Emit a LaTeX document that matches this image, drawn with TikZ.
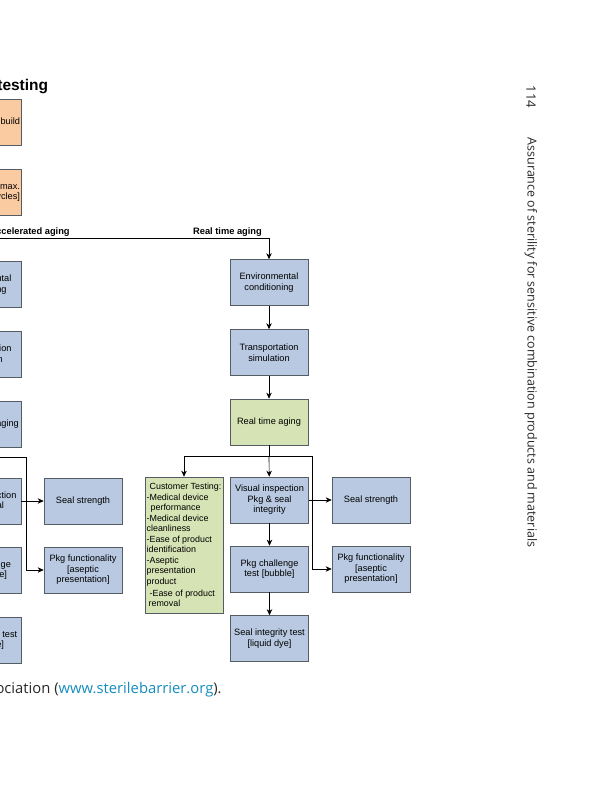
\documentclass[tikz,border=0pt]{standalone}
\usepackage{fontspec}
\setmainfont{Liberation Sans}
\newfontfamily\bookfont{Open Sans}
\usetikzlibrary{arrows.meta}
\definecolor{boxblue}{RGB}{184,201,225}
\definecolor{agegreen}{RGB}{214,227,181}
\definecolor{prepor}{RGB}{250,202,160}
\definecolor{boxline}{RGB}{85,92,100}
\definecolor{pagegray}{RGB}{40,40,40}
\definecolor{linkblue}{RGB}{20,140,190}
\tikzset{
  box/.style={draw=boxline,fill=boxblue,minimum width=78pt,minimum height=46pt,
    inner sep=1pt,align=center,font=\fontsize{9.2}{10.6}\selectfont},
  agebox/.style={box,fill=agegreen},
  prepbox/.style={box,fill=prepor,align=right,text width=76pt},
  branch/.style={anchor=base,inner sep=0pt,font=\bfseries\fontsize{9.3}{10}\selectfont},
}
\begin{document}
\begin{tikzpicture}[x=1pt,y=-1pt,>={Stealth[length=6pt,width=5.5pt]},line width=0.65pt]
  \useasboundingbox (0,0) rectangle (599,800);
  \clip (0,0) rectangle (599,800);
  % title and running head
  \node[anchor=base east,inner sep=0pt,font=\bfseries\fontsize{15.5}{16}\selectfont] (title) at (48.5,90) {Package testing};
  \node[rotate=-90,inner sep=0pt,text=pagegray,font=\bookfont\fontsize{13}{13}\selectfont] (pageno) at (531,97) {114};
  \node[rotate=-90,inner sep=0pt,text=pagegray,font=\bookfont\fontsize{12.5}{13}\selectfont] (runhead) at (531,342.5) {Assurance of sterility for sensitive combination products and materials};
  % preparation (cut at the left edge)
  \node[prepbox] (build) at (-18,122.5) {Package build};
  \node[prepbox] (steril) at (-18,192) {Sterilization max.\\{[cycles]}};
  \coordinate (split) at (-18,238);
  \draw (build) -- (steril);
  \draw (steril) -- (split);
  \node[branch,anchor=base east] (lblacc) at (70,234) {Accelerated aging};
  \node[branch] (lblrt) at (227.5,234) {Real time aging};
  % accelerated aging branch
  \node[box] (envacc) at (-18,284.5) {Environmental\\conditioning};
  \node[box] (transacc) at (-18,354) {Transportation\\simulation};
  \node[box] (agacc) at (-18,424) {Accelerated aging};
  \node[box] (visacc) at (-18,501) {Visual inspection\\Pkg \& seal};
  \node[box] (chalacc) at (-18,570) {Pkg challenge\\test [bubble]};
  \node[box] (dyeacc) at (-18,640) {Seal integrity test\\{[liquid dye]}};
  \node[box] (ssacc) at (83,501) {Seal strength};
  \node[box] (pfacc) at (83,570) {Pkg functionality\\{[aseptic}\\presentation]};
  \draw[->] (split) -- (envacc);
  \draw[->] (envacc) -- (transacc);
  \draw[->] (transacc) -- (agacc);
  \coordinate (ljoin) at (-18,457);
  \coordinate (lbend) at (26,457);
  \draw (agacc) -- (ljoin);
  \draw[->] (ljoin) -- (visacc);
  \draw[->] (ljoin) -- (lbend) |- (pfacc);
  \draw[->] (visacc) -- (ssacc);
  \draw[->] (visacc) -- (chalacc);
  \draw[->] (chalacc) -- (dyeacc);
  % real time aging branch
  \node[box] (env) at (269,282.5) {Environmental\\conditioning};
  \node[box] (trans) at (269,352.5) {Transportation\\simulation};
  \node[agebox] (rta) at (269,422) {Real time aging};
  \node[agebox,align=left,minimum height=136pt,
    font=\fontsize{8.9}{10.5}\selectfont] (cust) at (184,545) {\hspace*{3pt}Customer Testing:\\
    -Medical device\\
    \hspace*{4pt}performance\\
    -Medical device\\
    cleanliness\\
    -Ease of product\\
    identification\\
    -Aseptic\\
    presentation\\
    product\\[1.5pt]
    \hspace*{3pt}-Ease of product\\
    \hspace*{2pt}removal};
  \node[box] (vis) at (269.5,500) {Visual inspection\\Pkg \& seal\\integrity};
  \node[box] (chal) at (269.5,569) {Pkg challenge\\test [bubble]};
  \node[box] (dye) at (269.5,638.5) {Seal integrity test\\{[liquid dye]}};
  \node[box] (ssrt) at (371,500) {Seal strength};
  \node[box] (pfrt) at (371,569) {Pkg functionality\\{[aseptic}\\presentation]};
  \draw[->] (split) -| (env);
  \draw[->] (env) -- (trans);
  \draw[->] (trans) -- (rta);
  \coordinate (rjoin) at (269,456);
  \coordinate (rbend) at (312,456);
  \draw (rta) -- (rjoin);
  \draw[->] (rjoin) -| (cust);
  \draw[->] (rjoin) -- (vis);
  \draw[->] (rjoin) -- (rbend) |- (pfrt);
  \draw[->] (vis) -- (ssrt);
  \draw[->] (vis) -- (chal);
  \draw[->] (chal) -- (dye);
  % source line
  \node[anchor=base east,inner sep=0pt,text=pagegray,font=\bookfont\fontsize{14.8}{15}\selectfont] (credit) at (222,693) {Sterile Barrier Association ({\color{linkblue}www.sterilebarrier.org}).};
\end{tikzpicture}
\end{document}
